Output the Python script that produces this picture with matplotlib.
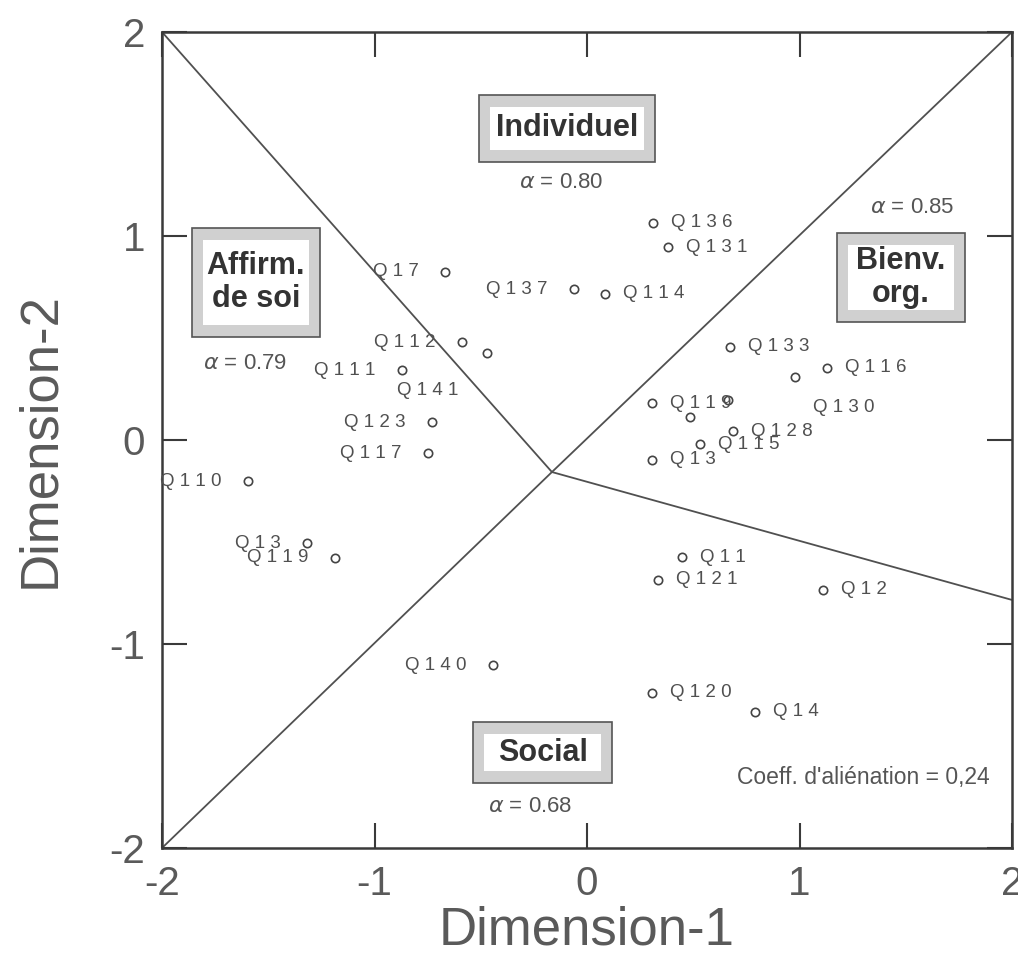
import matplotlib
matplotlib.use("Agg")
import matplotlib.pyplot as plt
from matplotlib.patches import Rectangle

# ---------------- data ----------------
item_labels = ["Q17", "Q137", "Q114", "Q136", "Q131", "Q112", "Q141", "Q111",
               "Q123", "Q117", "Q110", "Q13", "Q119", "Q140", "Q133", "Q116",
               "Q130", "Q119", "Q128", "Q115", "Q13", "Q11", "Q121", "Q12",
               "Q120", "Q14", "", ""]
dim1 = [-0.668, -0.061, 0.085, 0.311, 0.381, -0.588, -0.471, -0.871,
        -0.729, -0.748, -1.595, -1.318, -1.186, -0.442, 0.673, 1.129,
        0.979, 0.306, 0.687, 0.532, 0.306, 0.447, 0.334, 1.111,
        0.306, 0.791, 0.485, 0.664]
dim2 = [0.824, 0.740, 0.716, 1.064, 0.946, 0.480, 0.426, 0.343,
        0.088, -0.064, -0.201, -0.505, -0.578, -1.103, 0.456, 0.353,
        0.309, 0.181, 0.044, -0.020, -0.098, -0.574, -0.686, -0.735,
        -1.240, -1.333, 0.113, 0.196]

# partition lines: common centre and far end points
centre = (-0.165, -0.157)
ends_x = [-2.0, 2.0, -2.0, 2.0]
ends_y = [2.0, 2.0, -2.0, -0.784]

regions = ["Individuel", "Affirm.\nde soi", "Bienv.\norg.", "Social"]
alphas = ["0.80", "0.79", "0.85", "0.68"]
stress_text = "Coeff. d'aliénation = 0,24"
ticks = [-2, -1, 0, 1, 2]

# ---------------- layout ----------------
W, H, DPI = 1018, 973, 100
L, R, T, B = 162, 1012, 32, 848
PXX = (R - L) / 4.0   # pixels per unit x
PXY = (B - T) / 4.0   # pixels per unit y

# label placement: (dx, dy) in points, horizontal alignment
RIGHT = (13, 0, "left")
LEFT = (-19, 0, "right")
label_place = [LEFT, LEFT, RIGHT, RIGHT, RIGHT, LEFT, (-65, -26.6, "left"), LEFT,
               LEFT, LEFT, LEFT, LEFT, LEFT, LEFT, RIGHT, RIGHT,
               (13, -22, "left"), RIGHT, RIGHT, RIGHT, RIGHT, RIGHT, RIGHT, RIGHT,
               RIGHT, RIGHT, RIGHT, RIGHT]

# region boxes: centre (data), size (px)
box_centres = [(-0.094, 1.529), (-1.558, 0.772), (1.478, 0.797), (-0.209, -1.532)]
box_sizes = [(176, 67), (128, 109), (128, 89), (139, 61)]
alpha_pos = [(-0.120, 1.260), (-1.609, 0.377), (1.529, 1.142), (-0.268, -1.799)]

TXT = "#5a5a5a"
plt.rcParams["font.family"] = ["Liberation Sans", "DejaVu Sans"]
plt.rcParams["axes.unicode_minus"] = False

fig = plt.figure(figsize=(W / DPI, H / DPI), dpi=DPI, facecolor="white")
ax = fig.add_axes([L / W, 1 - B / H, (R - L) / W, (B - T) / H])
ax.set_xlim(-2, 2)
ax.set_ylim(-2, 2)

for s in ax.spines.values():
    s.set_color("#3a3a3a")
    s.set_linewidth(1.8)

ax.set_xticks(ticks)
ax.set_yticks(ticks)
ax.tick_params(direction="in", length=18, width=1.5, color="#3a3a3a",
               top=True, right=True, labelsize=29, labelcolor=TXT, pad=12)
for lab in ax.get_xticklabels() + ax.get_yticklabels():
    lab.set_fontweight("light")

ax.set_xlabel("Dimension-1", fontsize=38, color=TXT, fontweight="light", labelpad=2)
ax.set_ylabel("Dimension-2", fontsize=38, color=TXT, fontweight="light", labelpad=32)

# partition lines
for ex, ey in zip(ends_x, ends_y):
    ax.plot([centre[0], ex], [centre[1], ey], color="#505050", lw=1.3,
            solid_capstyle="butt", zorder=2, clip_on=False)

# points
ax.plot(dim1, dim2, linestyle="none", marker="o", ms=6, mfc="white",
        mec="#444444", mew=1.2, zorder=4)

for lab, x, y, (dx, dy, ha) in zip(item_labels, dim1, dim2, label_place):
    if not lab:
        continue
    ax.annotate(" ".join(lab), (x, y), xytext=(dx, dy), textcoords="offset points",
                ha=ha, va="center", fontsize=13.5, color="#505050", zorder=5)

# region boxes
for name, (cx, cy), (bw, bh), a, (axx, ayy) in zip(regions, box_centres, box_sizes,
                                                    alphas, alpha_pos):
    w, h = bw / PXX, bh / PXY
    ax.add_patch(Rectangle((cx - w / 2, cy - h / 2), w, h, facecolor="#d0d0d0",
                           edgecolor="#555555", lw=1.2, zorder=6))
    iw, ih = (bw - 22) / PXX, (bh - 24) / PXY
    ax.add_patch(Rectangle((cx - iw / 2, cy - ih / 2), iw, ih, facecolor="white",
                           edgecolor="none", zorder=7))
    ax.text(cx, cy, name, ha="center", va="center", fontsize=22, fontweight="bold",
            color="#333333", linespacing=1.15, zorder=8)
    ax.text(axx, ayy, r"$\alpha$ = " + a, ha="center", va="center", fontsize=16,
            color="#555555", zorder=8)

ax.text(1.896, -1.652, stress_text, ha="right", va="center", fontsize=16.5,
        color="#555555")

fig.savefig("out.png", dpi=DPI, facecolor="white")
